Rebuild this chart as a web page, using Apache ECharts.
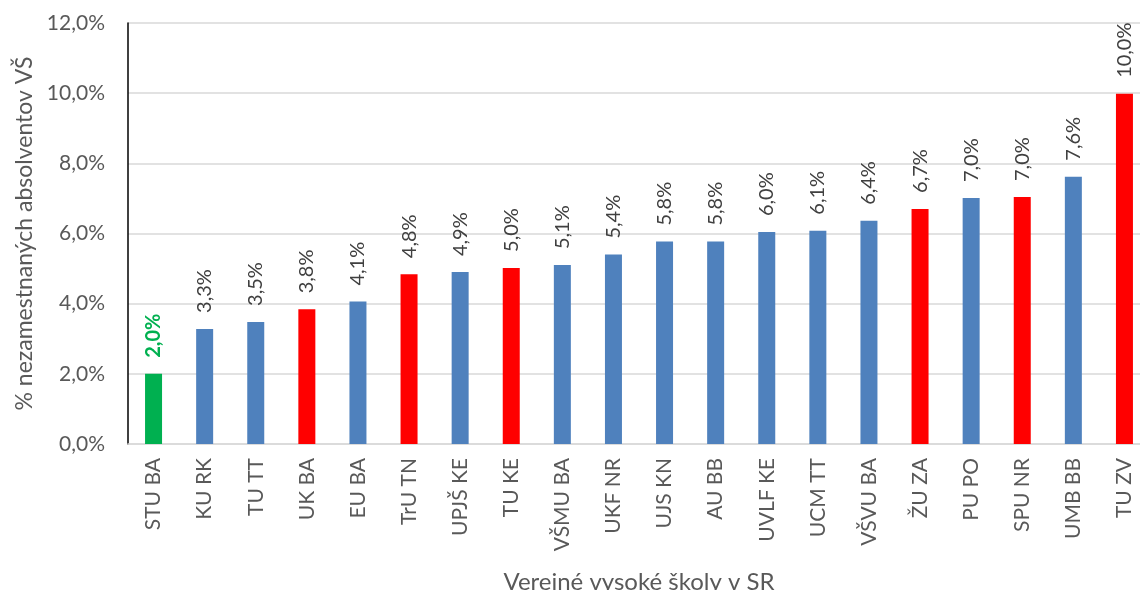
<!DOCTYPE html>
<html><head><meta charset="utf-8">
<script src="https://cdn.jsdelivr.net/npm/echarts@6/dist/echarts.min.js"></script>
<style>html,body{margin:0;padding:0;background:#fff}#c{width:1140px;height:590px}</style>
</head><body><div id="c"></div>
<script>
const categories = ["STU BA","KU RK","TU TT","UK BA","EU BA","TrU TN","UPJŠ KE","TU KE","VŠMU BA","UKF NR","UJS KN","AU BB","UVLF KE","UCM TT","VŠVU BA","ŽU ZA","PU PO","SPU NR","UMB BB","TU ZV"];
const values = [2.0,3.28,3.48,3.84,4.06,4.84,4.9,5.02,5.1,5.4,5.77,5.77,6.04,6.08,6.36,6.7,7.01,7.04,7.62,9.98];
const colorGroup = ["green","blue","blue","red","blue","red","blue","red","blue","blue","blue","blue","blue","blue","blue","red","blue","red","blue","red"];
const yTicks = [0,2,4,6,8,10,12];
const palette = {green:"#00b050", blue:"#4f81bd", red:"#ff0000"};
const FONT = "Lato";
const fmt = v => v.toFixed(1).replace('.', ',') + '%';
const chart = echarts.init(document.getElementById('c'), null, {renderer:'canvas'});
chart.setOption({
  animation:false,
  grid:{left:128, width:1022, top:23, height:421, containLabel:false, outerBoundsMode:'none'},
  xAxis:{
    type:'category', data:categories,
    name:'Verejné vysoké školy v SR', nameLocation:'middle', nameGap:126,
    nameTextStyle:{fontFamily:FONT, fontSize:24, color:'#595959'},
    axisLine:{lineStyle:{color:'#d9d9d9', width:1.5}},
    axisTick:{show:false},
    axisLabel:{rotate:90, interval:0, margin:14, fontFamily:FONT, fontSize:21, color:'#595959'}
  },
  yAxis:{
    type:'value', min:yTicks[0], max:yTicks[yTicks.length-1], interval:2,
    name:'% nezamestnaných absolventov VŠ', nameLocation:'middle', nameGap:90,
    nameTextStyle:{fontFamily:FONT, fontSize:23, color:'#595959'},
    axisLine:{show:true, lineStyle:{color:'#000', width:1.5}},
    axisTick:{show:false},
    axisLabel:{margin:23, fontFamily:FONT, fontSize:21, color:'#595959', formatter:v=>fmt(v)},
    splitLine:{lineStyle:{color:'#d9d9d9', width:1.5}}
  },
  series:[{
    type:'bar', barWidth:17,
    data: values.map((v,i)=>({
      value:v,
      itemStyle:{color:palette[colorGroup[i]]},
      label: colorGroup[i]==='green' ? {color:'#00b050', fontWeight:'bold'} : undefined
    })),
    label:{show:true, position:'top', rotate:90, align:'left', verticalAlign:'middle', distance:16,
      fontFamily:FONT, fontSize:20, color:'#404040', formatter:p=>fmt(p.value)}
  }]
});
</script></body></html>
